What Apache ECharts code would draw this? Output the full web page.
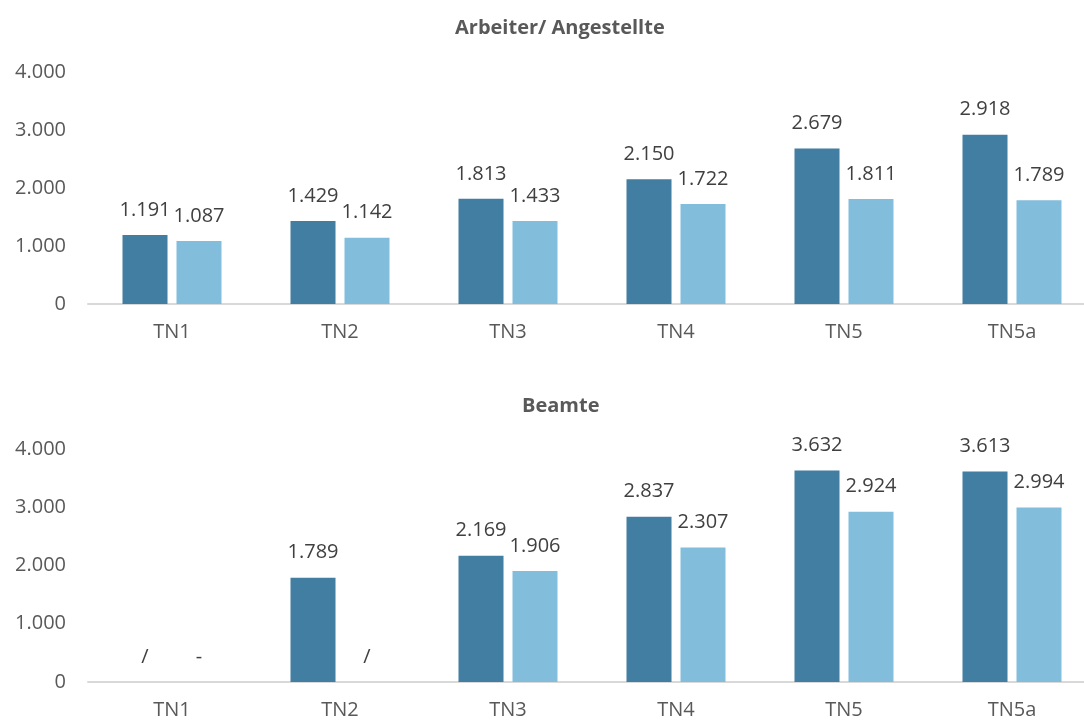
<!DOCTYPE html>
<html>
<head>
<meta charset="utf-8">
<script src="https://cdn.jsdelivr.net/npm/echarts@6/dist/echarts.min.js"></script>
<style>
  html, body { margin: 0; padding: 0; background: #fff; }
  #chart { width: 1084px; height: 721px; }
</style>
</head>
<body>
<div id="chart"></div>
<script>
// categories
var categories = ['TN1', 'TN2', 'TN3', 'TN4', 'TN5', 'TN5a'];
var yTicks = [0, 1000, 2000, 3000, 4000];

// Arbeiter/ Angestellte
var arbeiterDark = [1191, 1429, 1813, 2150, 2679, 2918];
var arbeiterLight = [1087, 1142, 1433, 1722, 1811, 1789];

// Beamte (0 where no value, marked with a note instead)
var beamteDark = [0, 1789, 2169, 2837, 3632, 3613];
var beamteLight = [0, 0, 1906, 2307, 2924, 2994];
var beamteDarkNotes = ['/', null, null, null, null, null];
var beamteLightNotes = ['-', '/', null, null, null, null];

var darkColor = '#427da2';
var lightColor = '#82bddb';
var textColor = '#595959';
var fontFam = '"Open Sans", sans-serif';

function fmt(v) {
  // german thousands separator
  return String(v).replace(/\B(?=(\d{3})+(?!\d))/g, '.');
}

function labelFor(notes) {
  return {
    show: true,
    position: 'top',
    distance: 15,
    color: '#404040',
    fontSize: 20,
    fontFamily: fontFam,
    formatter: function (p) {
      if (notes && notes[p.dataIndex]) return notes[p.dataIndex];
      return fmt(p.value);
    }
  };
}

function xAxisFor(idx) {
  return {
    type: 'category',
    gridIndex: idx,
    data: categories,
    axisTick: { show: false },
    axisLine: { lineStyle: { color: '#d9d9d9', width: 2 } },
    axisLabel: { color: textColor, fontSize: 20, fontFamily: fontFam, margin: 18 }
  };
}

function yAxisFor(idx) {
  return {
    type: 'value',
    gridIndex: idx,
    min: yTicks[0],
    max: yTicks[yTicks.length - 1],
    interval: 1000,
    splitLine: { show: false },
    axisLine: { show: false },
    axisTick: { show: false },
    axisLabel: {
      color: textColor, fontSize: 20, fontFamily: fontFam, margin: 22,
      formatter: function (v) { return fmt(v); }
    }
  };
}

function barSeries(idx, data, color, notes) {
  return {
    type: 'bar',
    xAxisIndex: idx,
    yAxisIndex: idx,
    data: data,
    barWidth: 45,
    barGap: '20%',
    itemStyle: { color: color },
    label: labelFor(notes),
    animation: false
  };
}

var option = {
  backgroundColor: '#ffffff',
  animation: false,
  title: [{
    text: 'Arbeiter/ Angestellte',
    left: 455,
    top: 18,
    padding: 0,
    textStyle: { color: textColor, fontSize: 20, fontWeight: 'bold', fontFamily: fontFam }
  }, {
    text: 'Beamte',
    left: 522,
    top: 396,
    padding: 0,
    textStyle: { color: textColor, fontSize: 20, fontWeight: 'bold', fontFamily: fontFam }
  }],
  grid: [
    { left: 88, width: 1008, top: 72, height: 232, outerBoundsMode: 'none' },
    { left: 88, width: 1008, top: 449, height: 233, outerBoundsMode: 'none' }
  ],
  xAxis: [xAxisFor(0), xAxisFor(1)],
  yAxis: [yAxisFor(0), yAxisFor(1)],
  series: [
    barSeries(0, arbeiterDark, darkColor, null),
    barSeries(0, arbeiterLight, lightColor, null),
    barSeries(1, beamteDark, darkColor, beamteDarkNotes),
    barSeries(1, beamteLight, lightColor, beamteLightNotes)
  ]
};

var chart = echarts.init(document.getElementById('chart'));
chart.setOption(option);
</script>
</body>
</html>
